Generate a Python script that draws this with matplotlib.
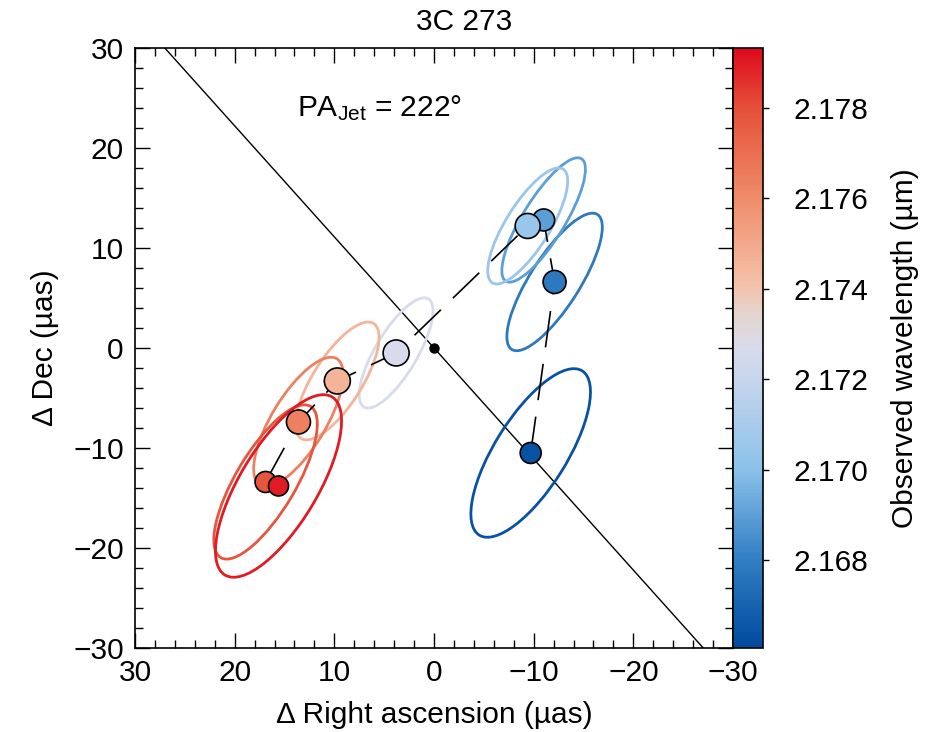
import numpy as np
import matplotlib
matplotlib.use("Agg")
import matplotlib.pyplot as plt
from matplotlib.patches import Ellipse
from matplotlib.colors import LinearSegmentedColormap, Normalize
from matplotlib.cm import ScalarMappable
from matplotlib.ticker import MultipleLocator

plt.rcParams['font.family'] = ['Liberation Sans', 'DejaVu Sans']
plt.rcParams['mathtext.fontset'] = 'custom'
plt.rcParams['mathtext.rm'] = 'Liberation Sans'
plt.rcParams['mathtext.it'] = 'Liberation Sans'
plt.rcParams['axes.unicode_minus'] = True

# photocentre offsets per spectral channel (ascending wavelength)
wavelength = [2.1664, 2.1678, 2.1690, 2.1705, 2.1727, 2.1746, 2.1764, 2.1778, 2.1790]
d_ra = [-9.7, -12.1, -11.0, -9.4, 3.8, 9.7, 13.6, 16.9, 15.6]
d_dec = [-10.5, 6.6, 12.8, 12.2, -0.5, -3.3, -7.4, -13.4, -13.8]
# error ellipses: semi-axes (uas) and orientation (deg)
err_major = [9.7, 8.0, 7.2, 6.7, 6.3, 6.8, 7.4, 8.8, 10.4]
err_minor = [3.6, 2.5, 2.1, 2.2, 2.1, 2.45, 2.7, 3.0, 3.9]
err_angle = [122.2, 122.5, 121.8, 122.0, 120.9, 122.4, 121.4, 120.8, 121.1]
marker_px = [21, 23, 22, 25, 26, 26, 24, 21, 20]

pa_jet = 222.0
wl_min, wl_max = 2.16606, 2.17932
cbar_ticks = [2.168, 2.170, 2.172, 2.174, 2.176, 2.178]

cmap = LinearSegmentedColormap.from_list("wl", [
    (0.00, '#004a9e'), (0.15, '#3380c4'), (0.30, '#8cc2ea'),
    (0.44, '#c4d4ec'), (0.50, '#d8dbec'), (0.55, '#e2d6d2'), (0.61, '#f5c0a8'),
    (0.75, '#ef8c6a'), (0.90, '#e5513a'), (1.00, '#de0a1c')])
norm = Normalize(wl_min, wl_max)

fs = 21.5
fig = plt.figure(figsize=(9.4, 7.32), dpi=100)
ax = fig.add_axes([0.1436, 0.1148, 0.6362, 0.8197])
cax = fig.add_axes([0.7798, 0.1148, 0.0319, 0.8197])

cols = [cmap(norm(w)) for w in wavelength]

# jet axis through the origin
ang = np.deg2rad(pa_jet)
ax.axline((0, 0), slope=np.cos(ang) / np.sin(ang), color='k', lw=1.0, zorder=1)

for x, y, a, b, t, c in zip(d_ra, d_dec, err_major, err_minor, err_angle, cols):
    ax.add_patch(Ellipse((x, y), 2 * a, 2 * b, angle=t, fill=False,
                         edgecolor=c, lw=2.0, zorder=2))

ax.plot(d_ra, d_dec, color='k', lw=1.2, dashes=(22, 10), zorder=3)
ax.plot([0], [0], 'o', color='k', ms=6.5, zorder=4)
ax.scatter(d_ra, d_dec, s=[(0.72 * m) ** 2 for m in marker_px], c=cols,
           edgecolors='k', linewidths=1.2, zorder=5)

ax.text(5.5, 24, r'PA$_{\mathrm{Jet}}$ = 222°', fontsize=fs, ha='center', va='center')

ax.set_xlim(30, -30)
ax.set_ylim(-30, 30)
ax.xaxis.set_major_locator(MultipleLocator(10))
ax.xaxis.set_minor_locator(MultipleLocator(2))
ax.yaxis.set_major_locator(MultipleLocator(10))
ax.yaxis.set_minor_locator(MultipleLocator(2))
ax.tick_params(which='both', direction='in', top=True, right=True, width=1.0,
               labelsize=fs, pad=8)
ax.tick_params(which='major', length=11)
ax.tick_params(which='minor', length=6)
for s in ax.spines.values():
    s.set_linewidth(1.2)
ax.set_xlabel('Δ Right ascension (µas)', fontsize=fs, labelpad=10)
ax.set_ylabel('Δ Dec (µas)', fontsize=fs, labelpad=10)
fig.text(0.494, 0.970, '3C 273', fontsize=fs, ha='center', va='center')

cb = fig.colorbar(ScalarMappable(norm=norm, cmap=cmap), cax=cax)
cb.set_ticks(cbar_ticks)
cb.set_ticklabels(['%.3f' % t for t in cbar_ticks])
cb.ax.tick_params(labelsize=fs, length=4, width=1.0, pad=18)
cb.outline.set_linewidth(1.2)
cb.set_label('Observed wavelength (µm)', fontsize=fs, labelpad=16)

fig.savefig('out.png', dpi=100)
